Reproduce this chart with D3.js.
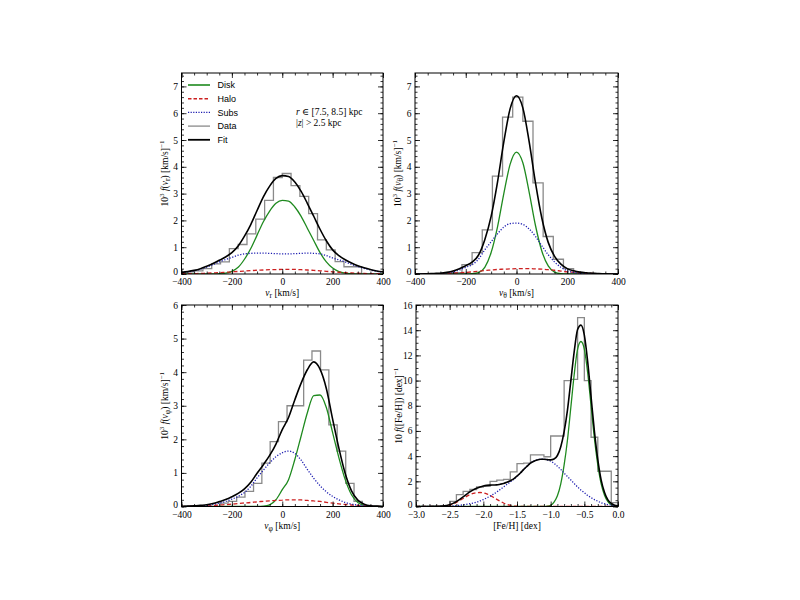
<!DOCTYPE html>
<html><head><meta charset="utf-8">
<script src="https://cdn.jsdelivr.net/npm/d3@7"></script>
<style>body{margin:0;background:#fff}</style>
</head><body>
<svg id="c" width="800" height="600"></svg>
<script>
// ---------------- DATA ----------------
// velocity grid (km/s) for model curves, panels 1-3
const vGrid = [-400,-375,-350,-325,-300,-275,-250,-225,-200,-175,-150,-125,-100,-75,-50,-25,0,25,50,75,100,125,150,175,200,225,250,275,300,325,350,375,400];

// Panel 1: v_r
const vrDisk = [0,0,0,0,0,0,0.01,0.03,0.1,0.25,0.55,0.95,1.45,1.95,2.35,2.64,2.75,2.72,2.5,2.15,1.7,1.25,0.8,0.45,0.22,0.09,0.03,0.01,0,0,0,0,0];
const vrHalo = [0.01,0.01,0.015,0.02,0.03,0.04,0.05,0.065,0.08,0.095,0.11,0.125,0.14,0.15,0.16,0.165,0.17,0.17,0.17,0.16,0.15,0.135,0.12,0.1,0.08,0.065,0.05,0.04,0.03,0.02,0.015,0.01,0.01];
const vrSubs = [0.05,0.08,0.12,0.18,0.26,0.35,0.45,0.54,0.62,0.7,0.75,0.77,0.78,0.78,0.77,0.76,0.75,0.75,0.76,0.77,0.78,0.77,0.75,0.69,0.6,0.53,0.45,0.36,0.28,0.21,0.15,0.1,0.07];
const vrFit  = [0.06,0.09,0.135,0.2,0.29,0.39,0.51,0.635,0.8,1.045,1.41,1.845,2.37,2.88,3.28,3.565,3.67,3.64,3.43,3.08,2.63,2.155,1.67,1.24,0.9,0.685,0.53,0.41,0.31,0.23,0.165,0.11,0.08];
const vrEdges = [-385,-350,-315,-280,-245,-210,-175,-140,-105,-70,-35,0,35,70,105,140,175,210,245,280,315];
const vrHist  = [0.08,0.12,0.2,0.38,0.45,0.95,1.1,1.5,2.05,2.75,3.6,3.75,3.3,2.9,2.25,1.27,0.9,0.46,0.27,0.27];

// Panel 2: v_theta
const vtDisk = [0,0,0,0,0,0,0,0,0,0.01,0.05,0.25,0.8,1.75,3.0,4.1,4.55,4.15,3.05,1.8,0.85,0.3,0.07,0.01,0,0,0,0,0,0,0,0,0];
const vtHalo = [0,0,0.005,0.01,0.01,0.02,0.03,0.045,0.06,0.08,0.1,0.13,0.15,0.17,0.18,0.19,0.2,0.2,0.2,0.19,0.18,0.16,0.14,0.11,0.08,0.06,0.04,0.03,0.02,0.01,0.005,0,0];
const vtSubs = [0,0,0.005,0.01,0.02,0.04,0.08,0.15,0.25,0.35,0.55,0.9,1.2,1.5,1.75,1.88,1.9,1.85,1.68,1.4,1.05,0.72,0.45,0.25,0.12,0.06,0.03,0.015,0.01,0.005,0,0,0];
const vtFit  = [0,0,0.01,0.02,0.03,0.06,0.11,0.195,0.31,0.44,0.7,1.28,2.15,3.42,4.93,6.17,6.65,6.2,4.93,3.39,2.08,1.18,0.66,0.37,0.2,0.12,0.07,0.045,0.03,0.015,0.005,0,0];
const vtEdges = [-295,-255,-215,-175,-135,-95,-55,-15,25,65,105,145,185,225,265];
const vtHist  = [0.03,0.05,0.35,0.8,1.65,3.65,5.85,6.6,5.7,3.4,1.4,0.55,0.2,0.05];

// Panel 3: v_phi
const vpDisk = [0,0,0,0,0,0,0,0,0,0,0,0,0,0.01,0.05,0.2,0.5,0.8,1.4,2.1,2.8,3.3,3.32,2.95,2.2,1.45,0.8,0.35,0.12,0.03,0,0,0];
const vpHalo = [0,0.005,0.01,0.015,0.02,0.03,0.045,0.055,0.07,0.09,0.105,0.12,0.14,0.155,0.17,0.18,0.19,0.2,0.2,0.195,0.18,0.165,0.15,0.125,0.1,0.08,0.06,0.045,0.03,0.02,0.01,0.005,0];
const vpSubs = [0,0.005,0.01,0.02,0.03,0.06,0.1,0.15,0.22,0.3,0.42,0.6,0.85,1.08,1.3,1.48,1.6,1.65,1.58,1.38,1.1,0.84,0.62,0.44,0.3,0.2,0.12,0.07,0.04,0.02,0.01,0.005,0];
const vpFit  = [0,0.01,0.02,0.035,0.05,0.09,0.145,0.205,0.29,0.39,0.525,0.72,0.99,1.245,1.52,1.86,2.29,2.65,3.18,3.675,4.08,4.305,4.09,3.515,2.6,1.73,0.98,0.465,0.19,0.07,0.02,0.01,0];
const vpEdges = [-248,-215,-181,-148,-114,-81,-48,-15,19,52,85,118,152,185,218,252,285,318];
const vpHist  = [0.1,0.15,0.28,0.45,0.69,1.29,1.93,2.53,3.0,3.0,4.36,4.63,4.07,2.43,1.65,0.69,0.15];

// Panel 4: [Fe/H]
const fehGrid = [-3.00,-2.95,-2.90,-2.85,-2.80,-2.75,-2.70,-2.65,-2.60,-2.55,-2.50,-2.45,-2.40,-2.35,-2.30,-2.25,-2.20,-2.15,-2.10,-2.05,-2.00,-1.95,-1.90,-1.85,-1.80,-1.75,-1.70,-1.65,-1.60,-1.55,-1.50,-1.45,-1.40,-1.35,-1.30,-1.25,-1.20,-1.15,-1.10,-1.05,-1.00,-0.95,-0.90,-0.85,-0.80,-0.75,-0.70,-0.65,-0.60,-0.55,-0.50,-0.45,-0.40,-0.35,-0.30,-0.25,-0.20,-0.15,-0.10,-0.05,0.00];
const fehDisk = [0,0,0,0,0,0,0,0,0,0,0,0,0,0,0,0,0,0,0,0,0,0,0,0,0,0,0,0,0,0,0,0,0,0,0,0,0,0,0,0.02,0.1,0.35,0.85,1.8,3.3,5.3,7.9,10.5,12.5,13.1,12.5,10.6,8.0,5.4,3.3,1.8,0.9,0.38,0.14,0.04,0.01];
const fehHalo = [0,0,0,0,0,0,0.005,0.01,0.02,0.05,0.1,0.2,0.32,0.47,0.63,0.8,0.94,1.04,1.1,1.11,1.08,1.0,0.88,0.73,0.57,0.42,0.28,0.17,0.09,0.04,0.02,0.01,0,0,0,0,0,0,0,0,0,0,0,0,0,0,0,0,0,0,0,0,0,0,0,0,0,0,0,0,0];
const fehSubs = [0,0,0,0.005,0.005,0.01,0.01,0.015,0.02,0.03,0.04,0.05,0.07,0.1,0.13,0.17,0.22,0.28,0.35,0.44,0.55,0.68,0.82,0.98,1.15,1.35,1.55,1.75,1.95,2.15,2.4,2.65,2.95,3.2,3.45,3.6,3.7,3.75,3.75,3.7,3.6,3.42,3.2,2.95,2.65,2.38,2.1,1.82,1.55,1.3,1.1,0.88,0.7,0.55,0.42,0.3,0.22,0.15,0.1,0.06,0.04];
const fehFit  = [0,0,0,0.005,0.005,0.01,0.015,0.025,0.04,0.08,0.14,0.25,0.39,0.57,0.76,0.97,1.16,1.32,1.45,1.55,1.63,1.68,1.7,1.71,1.72,1.77,1.83,1.92,2.04,2.19,2.42,2.66,2.95,3.2,3.45,3.6,3.7,3.75,3.75,3.72,3.7,3.77,4.05,4.75,5.95,7.68,10.0,12.32,14.05,14.4,13.6,11.48,8.7,5.95,3.72,2.1,1.12,0.53,0.24,0.1,0.05];
const fehEdges = [-2.5,-2.4,-2.3,-2.2,-2.1,-2.0,-1.9,-1.8,-1.7,-1.6,-1.5,-1.4,-1.3,-1.2,-1.1,-1.0,-0.9,-0.8,-0.7,-0.6,-0.5,-0.4,-0.3,-0.2,-0.1,0.0];
const fehHist  = [0.4,0.95,1.2,1.35,1.55,1.6,2.0,2.1,2.15,2.75,3.4,3.45,4.1,4.1,3.95,5.6,5.6,10.0,10.1,15.0,10.0,5.5,2.8,2.8,0.3];

// tick labels
const velTicks = [-400,-200,0,200,400];
const fehTicks = [-3.0,-2.5,-2.0,-1.5,-1.0,-0.5,0.0];
const legendLabels = ["Disk","Halo","Subs","Data","Fit"];

// ---------------- DRAW ----------------
const svg = d3.select("#c");
const serif = "'Liberation Serif', 'DejaVu Serif', serif";
const sans = "'Liberation Sans', 'DejaVu Sans', sans-serif";
const col = {disk:"#1f8a1f", halo:"#cc2020", subs:"#1c1cb0", data:"#8a8a8a", fit:"#000"};

function rich(sel, parts, size){
  let shift = 0;
  parts.forEach(([t,m]) => {
    const ts = sel.append("tspan").text(t);
    let target = 0, f = size;
    if (m === "sup") { target = -size*0.4; f = size*0.75; }
    if (m === "sub") { target = size*0.25; f = size*0.8; }
    ts.attr("dy", target - shift).attr("font-size", f);
    if (m === "i") ts.attr("font-style","italic");
    shift = target;
  });
}

const panels = [
  {x0:181.5, x1:383, y0:73, y1:274, xd:[-400,400], yd:[0,7.5], xt:velTicks, xm:d3.range(-400,401,50), yt:d3.range(0,8,1), ym:d3.range(0,7.51,0.2), xf:d3.format("d"), yf:d3.format("d"),
   grid:vGrid, disk:vrDisk, halo:vrHalo, subs:vrSubs, fit:vrFit, edges:vrEdges, hist:vrHist, sub:"r", ylab:"vel"},
  {x0:415, x1:618, y0:73, y1:274, xd:[-400,400], yd:[0,7.5], xt:velTicks, xm:d3.range(-400,401,50), yt:d3.range(0,8,1), ym:d3.range(0,7.51,0.2), xf:d3.format("d"), yf:d3.format("d"),
   grid:vGrid, disk:vtDisk, halo:vtHalo, subs:vtSubs, fit:vtFit, edges:vtEdges, hist:vtHist, sub:"θ", ylab:"vel"},
  {x0:181.5, x1:383, y0:305, y1:506.5, xd:[-400,400], yd:[0,6], xt:velTicks, xm:d3.range(-400,401,50), yt:d3.range(0,7,1), ym:d3.range(0,6.01,0.2), xf:d3.format("d"), yf:d3.format("d"),
   grid:vGrid, disk:vpDisk, halo:vpHalo, subs:vpSubs, fit:vpFit, edges:vpEdges, hist:vpHist, sub:"φ", ylab:"vel"},
  {x0:416, x1:618, y0:305, y1:506.5, xd:[-3,0], yd:[0,16], xt:fehTicks, xm:d3.range(-3,0.001,0.1), yt:d3.range(0,17,2), ym:d3.range(0,16.01,0.5), xf:d3.format(".1f"), yf:d3.format("d"),
   grid:fehGrid, disk:fehDisk, halo:fehHalo, subs:fehSubs, fit:fehFit, edges:fehEdges, hist:fehHist, sub:null, ylab:"feh"}
];

const fs = 9.5;
panels.forEach((p,i) => {
  const w = p.x1-p.x0, h = p.y1-p.y0;
  const g = svg.append("g").attr("transform",`translate(${p.x0},${p.y0})`);
  const x = d3.scaleLinear().domain(p.xd).range([0,w]);
  const y = d3.scaleLinear().domain(p.yd).range([h,0]);

  const clipId = "clip"+i;
  g.append("clipPath").attr("id",clipId).append("rect").attr("width",w).attr("height",h);
  const plot = g.append("g").attr("clip-path",`url(#${clipId})`);

  // histogram steps
  const pts = [[p.edges[0],0]];
  p.hist.forEach((v,k)=>{ pts.push([p.edges[k],v]); pts.push([p.edges[k+1],v]); });
  pts.push([p.edges[p.edges.length-1],0]);
  plot.append("path").datum(pts)
    .attr("d", d3.line().x(d=>x(d[0])).y(d=>y(d[1])))
    .attr("fill","none").attr("stroke",col.data).attr("stroke-width",1.3);

  const line = d3.line().x((d,k)=>x(p.grid[k])).y(d=>y(d)).curve(d3.curveMonotoneX);
  plot.append("path").datum(p.disk).attr("d",line).attr("fill","none").attr("stroke",col.disk).attr("stroke-width",1.3);
  plot.append("path").datum(p.halo).attr("d",line).attr("fill","none").attr("stroke",col.halo).attr("stroke-width",1.3).attr("stroke-dasharray","4,2.5");
  plot.append("path").datum(p.subs).attr("d",line).attr("fill","none").attr("stroke",col.subs).attr("stroke-width",1.3).attr("stroke-dasharray","1.2,1.6");
  plot.append("path").datum(p.fit).attr("d",line).attr("fill","none").attr("stroke",col.fit).attr("stroke-width",1.6);

  // axes
  const mk = (ax, tr, vals, size, fmt, pad) => {
    const a = g.append("g").attr("transform",tr).call(ax.tickValues(vals).tickSize(size).tickPadding(pad).tickFormat(fmt));
    a.select(".domain").remove();
    a.selectAll("text").attr("font-family",serif).attr("font-size",fs).attr("fill","#000");
    a.selectAll("line").attr("stroke","#000").attr("stroke-width",0.8);
    return a;
  };
  mk(d3.axisBottom(x), `translate(0,${h})`, p.xt, -5, p.xf, 4.5);
  mk(d3.axisBottom(x), `translate(0,${h})`, p.xm, -2.5, "", 3);
  mk(d3.axisTop(x), `translate(0,0)`, p.xt, -5, "", 3);
  mk(d3.axisTop(x), `translate(0,0)`, p.xm, -2.5, "", 3);
  const ya = mk(d3.axisLeft(y), `translate(0,0)`, p.yt, -5, p.yf, 3.5);
  ya.selectAll("text").filter(d => d === 0).attr("dy","0.1em");
  mk(d3.axisLeft(y), `translate(0,0)`, p.ym, -2.5, "", 3);
  mk(d3.axisRight(y), `translate(${w},0)`, p.yt, -5, "", 3);
  mk(d3.axisRight(y), `translate(${w},0)`, p.ym, -2.5, "", 3);

  g.append("rect").attr("width",w).attr("height",h).attr("fill","none").attr("stroke","#000").attr("stroke-width",1);

  // axis labels
  const xl = g.append("text").attr("x",w/2).attr("y",h+22).attr("text-anchor","middle")
    .attr("font-family",serif).attr("font-size",fs);
  const yl = g.append("text").attr("transform",`translate(-14,${h/2}) rotate(-90)`).attr("text-anchor","middle")
    .attr("font-family",serif).attr("font-size",fs);
  if (p.ylab === "vel") {
    rich(xl, [["v","i"],[p.sub,"sub"],[" [km/s]","n"]], fs);
    rich(yl, [["10","n"],["3","sup"],[" ","n"],["f","i"],["(","n"],["v","i"],[p.sub,"sub"],[") [km/s]","n"],["−1","sup"]], fs);
  } else {
    rich(xl, [["[Fe/H] [dex]","n"]], fs);
    rich(yl, [["10 ","n"],["f","i"],["([Fe/H]) [dex]","n"],["−1","sup"]], fs);
  }

  if (i === 0) {
    const styles = [
      {c:col.disk, d:null, w:1.6},
      {c:col.halo, d:"3.5,2", w:1.4},
      {c:col.subs, d:"1.2,1.4", w:1.4},
      {c:col.data, d:null, w:1.3},
      {c:col.fit, d:null, w:1.8}
    ];
    legendLabels.forEach((lab,k) => {
      const yy = 12 + k*13.7;
      g.append("line").attr("x1",6.5).attr("x2",28.5).attr("y1",yy).attr("y2",yy)
        .attr("stroke",styles[k].c).attr("stroke-width",styles[k].w).attr("stroke-dasharray",styles[k].d);
      g.append("text").attr("x",36).attr("y",yy+3.2).attr("font-family",sans).attr("font-size",9).text(lab);
    });
    const t1 = g.append("text").attr("x",114.5).attr("y",41.5).attr("font-family",serif).attr("font-size",fs);
    rich(t1, [["r","i"],[" ∈ [7.5, 8.5] kpc","n"]], fs);
    const t2 = g.append("text").attr("x",114.5).attr("y",53).attr("font-family",serif).attr("font-size",fs);
    rich(t2, [["|","n"],["z","i"],["| > 2.5 kpc","n"]], fs);
  }
});
</script>
</body></html>
